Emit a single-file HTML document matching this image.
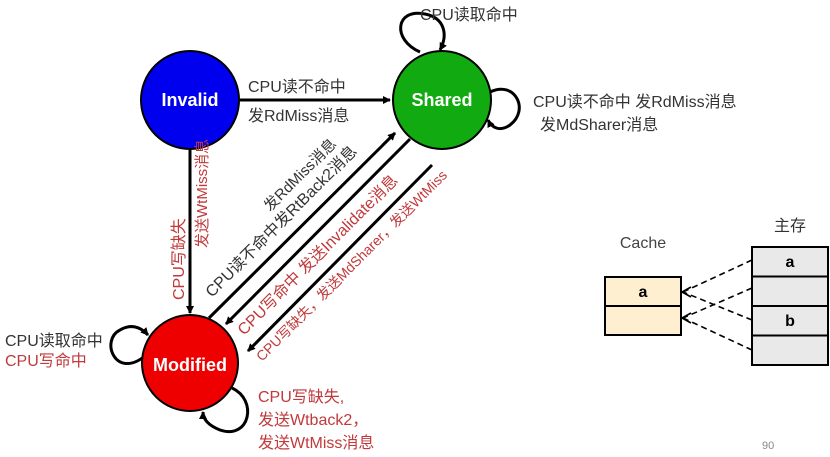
<!DOCTYPE html>
<html><head><meta charset="utf-8"><style>
body{margin:0;background:#fff}
svg{display:block}
text{font-family:"Liberation Sans","Noto Sans CJK SC",sans-serif}
.r{fill:#c0393b}
.k{fill:#333}
</style></head><body>
<svg width="830" height="457" viewBox="0 0 830 457" xmlns="http://www.w3.org/2000/svg">
<defs>
<marker id="a" markerWidth="8" markerHeight="8" refX="7" refY="4" orient="auto" markerUnits="userSpaceOnUse"><path d="M0,0 L8,4 L0,8 z" fill="#000"/></marker>
</defs>
<g stroke="#000" stroke-width="3" fill="none">
<line x1="240" y1="100" x2="390" y2="100" marker-end="url(#a)"/>
<line x1="190" y1="150" x2="190" y2="313" marker-end="url(#a)"/>
<line x1="209" y1="318" x2="395" y2="133" marker-end="url(#a)"/>
<line x1="410" y1="139" x2="226" y2="324" marker-end="url(#a)"/>
<line x1="432" y1="165" x2="248" y2="351" marker-end="url(#a)"/>
<path d="M420,52 C392,40 395,8 425,14 C445,18 448,35 440,50" marker-end="url(#a)"/>
<path d="M490,92 C515,80 530,110 510,125 C500,132 492,128 488,120" marker-end="url(#a)"/>
<path d="M145,356 C115,380 100,340 120,330 C130,324 140,326 148,335" marker-end="url(#a)"/>
<path d="M232,388 C258,400 250,440 220,430 C210,426 203,420 203,412" marker-end="url(#a)"/>
</g>
<circle cx="190" cy="100" r="49" fill="#0000ee" stroke="#000" stroke-width="2"/>
<circle cx="442" cy="100" r="49" fill="#11aa11" stroke="#000" stroke-width="2"/>
<circle cx="190" cy="363" r="48" fill="#ee0000" stroke="#000" stroke-width="2"/>
<g font-weight="bold" font-size="18" fill="#fff" text-anchor="middle">
<text x="190" y="106">Invalid</text>
<text x="442" y="106">Shared</text>
<text x="190" y="371">Modified</text>
</g>
<g font-size="16">
<text x="248" y="92" class="k">CPU读不命中</text>
<text x="248" y="121" class="k">发RdMiss消息</text>
<text x="420" y="20" class="k">CPU读取命中</text>
<text x="533" y="107" class="k">CPU读不命中  发RdMiss消息</text>
<text x="540" y="130" class="k">发MdSharer消息</text>
<text x="5" y="346" class="k">CPU读取命中</text>
<text x="5" y="366" class="r">CPU写命中</text>
<text x="258" y="402" class="r">CPU写缺失,</text>
<text x="258" y="425" class="r">发送Wtback2，</text>
<text x="258" y="448" class="r">发送WtMiss消息</text>
<text transform="translate(184,300) rotate(-90)" class="r">CPU写缺失</text>
<text transform="translate(207,248) rotate(-90)" class="r" font-size="15">发送WtMiss消息</text>
<text transform="translate(270,212) rotate(-45)" class="k" font-size="15">发RdMiss消息</text>
<text transform="translate(212,298) rotate(-45)" class="k">CPU读不命中发RtBack2消息</text>
<text transform="translate(244,336) rotate(-45)" class="r">CPU写命中 发送Invalidate消息</text>
<text transform="translate(262,362) rotate(-45)" class="r" font-size="14">CPU写缺失，发送MdSharer，发送WtMiss</text>
<text x="643" y="248" text-anchor="middle" fill="#444">Cache</text>
<text x="790" y="231" text-anchor="middle" fill="#333">主存</text>
</g>
<text x="762" y="449" font-size="11" fill="#888">90</text>
<g stroke="#000" stroke-width="2">
<rect x="605" y="277" width="76" height="29" fill="#fdefcf"/>
<rect x="605" y="306" width="76" height="29" fill="#fdefcf"/>
<rect x="752" y="247" width="76" height="29.5" fill="#e9e9e9"/>
<rect x="752" y="276.5" width="76" height="29.5" fill="#e9e9e9"/>
<rect x="752" y="306" width="76" height="29.5" fill="#e9e9e9"/>
<rect x="752" y="335.5" width="76" height="29.5" fill="#e9e9e9"/>
</g>
<g font-size="16" font-weight="bold" text-anchor="middle" fill="#000">
<text x="643" y="297">a</text>
<text x="790" y="267">a</text>
<text x="790" y="326">b</text>
</g>
<g stroke="#000" stroke-width="1.6" stroke-dasharray="6,4" fill="none">
<line x1="752" y1="260" x2="683" y2="292"/>
<line x1="752" y1="320" x2="683" y2="292"/>
<line x1="752" y1="288" x2="683" y2="318"/>
<line x1="752" y1="350" x2="683" y2="318"/>
</g>
<path d="M691,287 L682,292 L691,297 M691,313 L682,318 L691,323" stroke="#000" stroke-width="1.6" fill="none"/>
</svg>
</body></html>
